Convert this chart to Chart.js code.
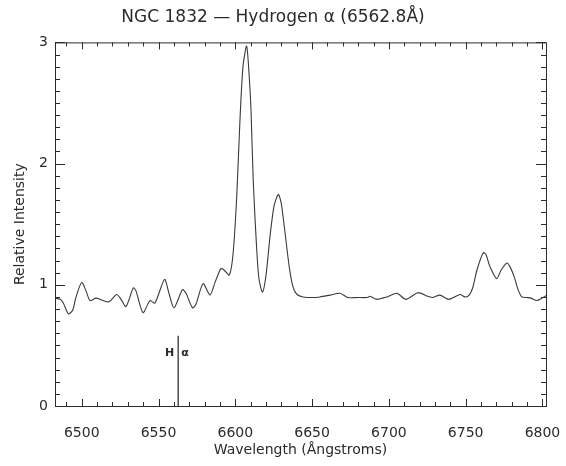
<!DOCTYPE html>
<html>
<head>
<meta charset="utf-8">
<script src="https://cdn.jsdelivr.net/npm/chart.js@4.4.1/dist/chart.umd.min.js"></script>
<style>
  html, body { margin: 0; padding: 0; background: #fff; }
</style>
</head>
<body>
<canvas id="spectrum" width="566" height="466"></canvas>
<script>
// Spectrum (wavelength in Å, relative intensity)
const wavelengths = [
  6482.6, 6485.9, 6488.0, 6491.3, 6494.1, 6496.3, 6500.0, 6502.8, 6505.4, 6509.3,
  6513.9, 6517.8, 6522.8, 6525.6, 6528.8, 6533.6, 6535.3, 6539.9, 6544.4, 6547.7,
  6553.9, 6556.8, 6560.1, 6565.6, 6567.9, 6572.1, 6574.4, 6579.0, 6583.5, 6586.8,
  6590.7, 6592.8, 6596.1, 6598.5, 6600.9, 6603.0, 6605.0, 6607.4, 6608.9, 6610.2,
  6611.7, 6613.9, 6615.4, 6617.7, 6620.0, 6622.6, 6625.2, 6628.0, 6629.8, 6631.7,
  6635.1, 6637.6, 6640.2, 6644.1, 6650.6, 6655.1, 6661.6, 6668.1, 6673.4, 6679.9,
  6685.7, 6687.7, 6692.2, 6698.7, 6705.2, 6711.1, 6718.9, 6725.4, 6728.7, 6733.2,
  6739.1, 6746.3, 6749.5, 6752.3, 6754.7, 6757.3, 6761.4, 6763.2, 6765.8, 6770.2,
  6773.0, 6776.9, 6778.8, 6781.5, 6784.1, 6786.6, 6789.9, 6792.5, 6796.4, 6799.7,
  6802.3
];
const intensities = [
  0.89, 0.88, 0.85, 0.76, 0.79, 0.90, 1.02, 0.95, 0.87, 0.89,
  0.87, 0.86, 0.92, 0.88, 0.82, 0.975, 0.95, 0.77, 0.87, 0.85,
  1.045, 0.93, 0.81, 0.96, 0.93, 0.81, 0.84, 1.01, 0.915, 1.02,
  1.135, 1.12, 1.08, 1.25, 1.72, 2.35, 2.80, 2.97, 2.75, 2.45,
  1.85, 1.30, 1.05, 0.94, 1.08, 1.40, 1.65, 1.745, 1.68, 1.50,
  1.15, 0.98, 0.92, 0.90, 0.895, 0.90, 0.915, 0.93, 0.895, 0.895,
  0.895, 0.905, 0.88, 0.90, 0.93, 0.88, 0.935, 0.905, 0.895, 0.915,
  0.88, 0.92, 0.90, 0.915, 0.98, 1.12, 1.265, 1.25, 1.15, 1.05,
  1.12, 1.18, 1.15, 1.07, 0.96, 0.90, 0.895, 0.89, 0.87, 0.89,
  0.91
];

const xTickValues = [6500, 6550, 6600, 6650, 6700, 6750, 6800];
const yTickValues = [0, 1, 2, 3];
const xRange = [6482.6, 6802.3];
const yRange = [0, 3];

// Rest wavelength of H-alpha and the height of its marker
const hAlphaWavelength = 6562.8;
const hAlphaMarker = [0, 0.58];
const hAlphaLabelLevel = 0.44;

const ink = '#2b2b2b';
const fontFamily = "'DejaVu Sans', Arial, sans-serif";

// IDL-style frame with inward major/minor ticks on all four sides
const frameTicksPlugin = {
  id: 'frameTicks',
  afterDatasetsDraw(chart) {
    const { ctx, chartArea: a, scales: { x, y } } = chart;
    ctx.save();
    ctx.strokeStyle = ink;
    ctx.lineWidth = 1;
    ctx.strokeRect(a.left + 0.5, a.top + 0.5, a.right - a.left, a.bottom - a.top);

    ctx.beginPath();
    for (let w = 6490; w <= xRange[1]; w += 10) {
      const px = Math.round(x.getPixelForValue(w)) + 0.5;
      const len = w % 50 === 0 ? 7 : 4;
      ctx.moveTo(px, a.bottom); ctx.lineTo(px, a.bottom - len);
      ctx.moveTo(px, a.top); ctx.lineTo(px, a.top + len);
    }
    for (let i = 0; i <= 30; i++) {
      const py = Math.round(y.getPixelForValue(i / 10)) + 0.5;
      const len = i % 10 === 0 ? 10 : 5;
      ctx.moveTo(a.left, py); ctx.lineTo(a.left + len, py);
      ctx.moveTo(a.right, py); ctx.lineTo(a.right - len, py);
    }
    ctx.stroke();

    // H alpha label either side of the marker
    const hx = x.getPixelForValue(hAlphaWavelength);
    const hy = y.getPixelForValue(hAlphaLabelLevel);
    ctx.fillStyle = ink;
    ctx.textBaseline = 'middle';
    ctx.font = `bold 11px ${fontFamily}`;
    ctx.textAlign = 'right';
    ctx.fillText('H', hx - 4, hy);
    ctx.textAlign = 'left';
    ctx.fillText('α', hx + 3, hy);
    ctx.restore();
  }
};

const chart = new Chart(document.getElementById('spectrum'), {
  type: 'line',
  data: {
    datasets: [
      {
        data: wavelengths.map((w, i) => ({ x: w, y: intensities[i] })),
        borderColor: '#3a3a3a',
        borderWidth: 1.1,
        pointRadius: 0,
        tension: 0.25,
        fill: false
      },
      {
        data: hAlphaMarker.map((v) => ({ x: hAlphaWavelength, y: v })),
        borderColor: '#222',
        borderWidth: 1.2,
        pointRadius: 0,
        fill: false
      }
    ]
  },
  options: {
    responsive: false,
    animation: false,
    layout: { padding: { left: 0, right: 20, top: 0, bottom: 0 } },
    plugins: {
      legend: { display: false },
      tooltip: { enabled: false },
      title: {
        display: true,
        text: 'NGC 1832 — Hydrogen α (6562.8Å)',
        color: ink,
        font: { family: fontFamily, size: 17, weight: 'normal' },
        padding: { top: 7, bottom: 15 }
      }
    },
    scales: {
      x: {
        type: 'linear',
        min: xRange[0],
        max: xRange[1],
        grid: { display: false, drawTicks: false },
        border: { display: false },
        afterBuildTicks: (s) => { s.ticks = xTickValues.map((v) => ({ value: v })); },
        afterFit: (s) => { s.height = 60; s.paddingLeft = 0; s.paddingRight = 0; },
        ticks: {
          color: ink,
          padding: 19,
          maxRotation: 0,
          font: { family: fontFamily, size: 14 },
          callback: (v) => String(v)
        },
        title: {
          display: true,
          text: 'Wavelength (Ångstroms)',
          color: ink,
          font: { family: fontFamily, size: 14 },
          padding: { top: 0, bottom: 7 }
        }
      },
      y: {
        type: 'linear',
        min: yRange[0],
        max: yRange[1],
        grid: { display: false, drawTicks: false },
        border: { display: false },
        afterBuildTicks: (s) => { s.ticks = yTickValues.map((v) => ({ value: v })); },
        afterFit: (s) => { s.width = 55; },
        ticks: {
          color: ink,
          padding: 7,
          font: { family: fontFamily, size: 14 },
          callback: (v) => String(v)
        },
        title: {
          display: true,
          text: 'Relative Intensity',
          color: ink,
          font: { family: fontFamily, size: 14 },
          padding: { top: 12, bottom: 0 }
        }
      }
    }
  },
  plugins: [frameTicksPlugin]
});
</script>
</body>
</html>
